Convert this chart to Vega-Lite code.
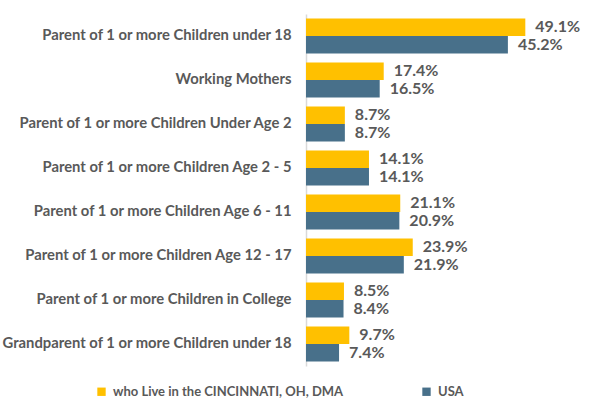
{
  "$schema": "https://vega.github.io/schema/vega-lite/v6.json",
  "autosize": {"type": "none"},
  "width": 268,
  "height": 352,
  "padding": {"left": 306, "top": 14, "right": 19, "bottom": 43},
  "background": "white",
  "config": {"view": {"stroke": null}, "font": "Lato"},
  "data": {"values": [
    {"category": "Parent of 1 or more Children under 18", "series": "who Live in the CINCINNATI, OH, DMA", "value": 0.491},
    {"category": "Parent of 1 or more Children under 18", "series": "USA", "value": 0.452},
    {"category": "Working Mothers", "series": "who Live in the CINCINNATI, OH, DMA", "value": 0.174},
    {"category": "Working Mothers", "series": "USA", "value": 0.165},
    {"category": "Parent of 1 or more Children Under Age 2", "series": "who Live in the CINCINNATI, OH, DMA", "value": 0.087},
    {"category": "Parent of 1 or more Children Under Age 2", "series": "USA", "value": 0.087},
    {"category": "Parent of 1 or more Children Age 2 - 5", "series": "who Live in the CINCINNATI, OH, DMA", "value": 0.141},
    {"category": "Parent of 1 or more Children Age 2 - 5", "series": "USA", "value": 0.141},
    {"category": "Parent of 1 or more Children Age 6 - 11", "series": "who Live in the CINCINNATI, OH, DMA", "value": 0.211},
    {"category": "Parent of 1 or more Children Age 6 - 11", "series": "USA", "value": 0.209},
    {"category": "Parent of 1 or more Children Age 12 - 17", "series": "who Live in the CINCINNATI, OH, DMA", "value": 0.239},
    {"category": "Parent of 1 or more Children Age 12 - 17", "series": "USA", "value": 0.219},
    {"category": "Parent of 1 or more Children in College", "series": "who Live in the CINCINNATI, OH, DMA", "value": 0.085},
    {"category": "Parent of 1 or more Children in College", "series": "USA", "value": 0.084},
    {"category": "Grandparent of 1 or more Children under 18", "series": "who Live in the CINCINNATI, OH, DMA", "value": 0.097},
    {"category": "Grandparent of 1 or more Children under 18", "series": "USA", "value": 0.074}
  ]},
  "encoding": {
    "y": {
      "field": "category", "type": "nominal", "sort": null,
      "scale": {"paddingInner": 0.2, "paddingOuter": 0.1},
      "axis": {"title": null, "ticks": false, "domainColor": "#d9d9d9", "domainWidth": 1.5, "labelFontSize": 14.8, "labelFontWeight": "bold", "labelColor": "#595959", "labelPadding": 15, "labelLimit": 340}
    },
    "yOffset": {"field": "series", "type": "nominal", "sort": ["who Live in the CINCINNATI, OH, DMA", "USA"]},
    "x": {"field": "value", "type": "quantitative", "scale": {"domain": [0, 0.6]}, "axis": null}
  },
  "layer": [
    {
      "mark": {"type": "bar"},
      "encoding": {
        "color": {
          "field": "series", "type": "nominal",
          "scale": {"domain": ["who Live in the CINCINNATI, OH, DMA", "USA"], "range": ["#FFC000", "#48708A"]},
          "legend": {
            "title": null, "orient": "none", "direction": "horizontal", "columns": 2,
            "legendX": -211, "legendY": 371, "symbolType": "square", "symbolSize": 70, "labelOffset": 5,
            "labelFontSize": 13, "labelFontWeight": "bold", "labelColor": "#595959", "columnPadding": 76, "labelLimit": 400
          }
        }
      }
    },
    {
      "mark": {"type": "text", "align": "left", "dx": 10, "fontSize": 16, "fontWeight": "bold", "color": "#595959"},
      "encoding": {"text": {"field": "value", "type": "quantitative", "format": ".1%"}}
    }
  ]
}
